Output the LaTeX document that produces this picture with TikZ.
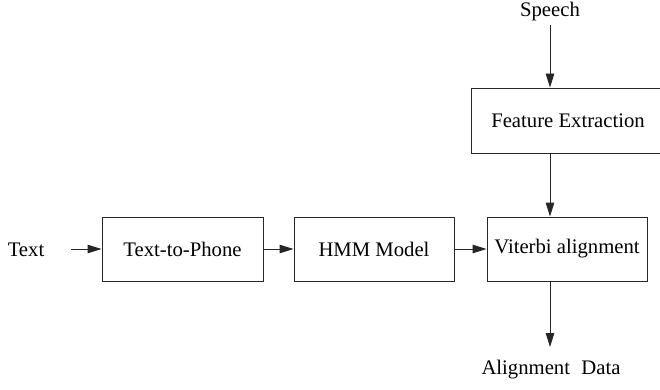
\documentclass[tikz,border=0pt]{standalone}
\usepackage{fontspec}
\setmainfont{Liberation Serif}
\usetikzlibrary{arrows.meta,calc}
\begin{document}
\begin{tikzpicture}[x=1pt,y=-1pt,
  every node/.style={font=\fontsize{20.7}{24}\selectfont, text=black, inner sep=0pt},
  box/.style={draw=black!85, line width=0.9pt, rectangle},
  conn/.style={draw=black!85, line width=0.9pt, -{Triangle[length=14pt,width=8.5pt]}}]
\clip (0,0) rectangle (660,390);
\node (speech) at (550,12) {Speech};
\node[box, minimum width=197pt, minimum height=65pt] (feat) at (569.5,120.5) {};
\node at (568,121) {Feature Extraction};
\node[box, minimum width=161pt, minimum height=64pt] (t2p) at (182.5,249) {Text-to-Phone};
\node[box, minimum width=160pt, minimum height=64pt] (hmm) at (374,249) {HMM Model};
\node[box, minimum width=160pt, minimum height=64pt] (vit) at (567,249) {Viterbi alignment};
\node (text) at (26,250) {Text};
\node (out) at (551,370) {Alignment\hspace{0.55em}Data};
\coordinate (tin) at (71,249);
\coordinate (s0) at (550,25);
\coordinate (o1) at (550,347);
\draw[conn] (s0) -- (s0 |- feat.north);
\draw[conn] (feat.south -| s0) -- (vit.north -| s0);
\draw[conn] (vit.south -| s0) -- (o1);
\draw[conn] (tin) -- (t2p.west);
\draw[conn] (t2p.east) -- (hmm.west);
\draw[conn] (hmm.east) -- (vit.west);
\end{tikzpicture}
\end{document}
